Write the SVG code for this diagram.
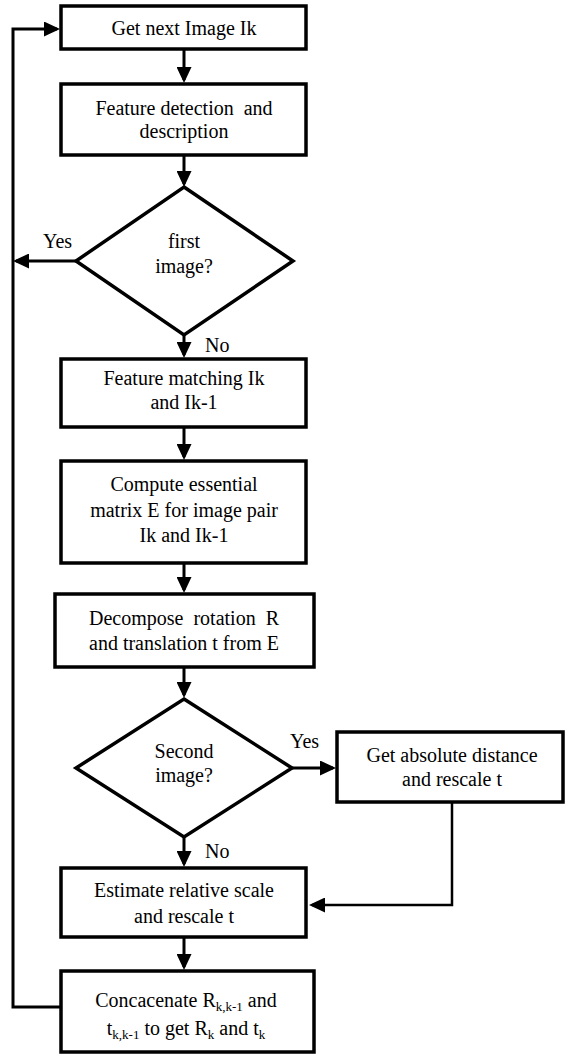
<svg xmlns="http://www.w3.org/2000/svg" width="566" height="1055" viewBox="0 0 566 1055">
<style>
.box{fill:#fff;stroke:#000;stroke-width:3.5}
.c{fill:none;stroke:#000;stroke-width:3}
.c2{fill:none;stroke:#000;stroke-width:2.5}
.t{font-family:'Liberation Serif',Tinos,'Times New Roman',Times,'Nimbus Roman','Nimbus Roman No9 L',FreeSerif,'Noto Serif','DejaVu Serif','Noto Serif CJK SC',serif;font-size:20px;fill:#000}
.m{text-anchor:middle}
.s{font-size:13px}
</style>
<defs>
<marker id="ah" viewBox="0 0 16 15" refX="13" refY="7.5" markerWidth="16" markerHeight="15" orient="auto" markerUnits="userSpaceOnUse"><path d="M0,0 L16,7.5 L0,15 z" fill="#000"/></marker>
</defs>
<rect width="566" height="1055" fill="#fff"/>
<g id="connectors">
<line class="c" x1="184" y1="50" x2="184" y2="80" marker-end="url(#ah)"/>
<line class="c" x1="184" y1="156" x2="184" y2="184" marker-end="url(#ah)"/>
<line class="c" x1="76" y1="261" x2="16" y2="261" marker-end="url(#ah)"/>
<line class="c" x1="184" y1="335" x2="184" y2="355" marker-end="url(#ah)"/>
<line class="c" x1="184" y1="428" x2="184" y2="457" marker-end="url(#ah)"/>
<line class="c" x1="184" y1="564" x2="184" y2="590" marker-end="url(#ah)"/>
<line class="c" x1="184" y1="668" x2="184" y2="695" marker-end="url(#ah)"/>
<line class="c" x1="184" y1="837" x2="184" y2="864" marker-end="url(#ah)"/>
<line class="c" x1="292" y1="768" x2="333" y2="768" marker-end="url(#ah)"/>
<polyline class="c2" points="452,803 452,905 312,905" marker-end="url(#ah)"/>
<line class="c" x1="184" y1="938" x2="184" y2="967" marker-end="url(#ah)"/>
<polyline class="c" points="61,1007 13,1007 13,29 57,29" marker-end="url(#ah)"/>
</g>
<g id="n1"><rect class="box" x="61" y="6" width="245" height="43"/><text class="t m" x="184" y="35">Get next Image Ik</text></g>
<g id="n2"><rect class="box" x="61" y="84" width="245" height="71"/><text class="t m" x="184" y="115" xml:space="preserve">Feature detection  and</text><text class="t m" x="184" y="138">description</text></g>
<g id="d1"><polygon class="box" points="184,187 293,261 184,335 76,261"/><text class="t m" x="184" y="248">first</text><text class="t m" x="184" y="273">image?</text></g>
<text class="t" x="43" y="248">Yes</text>
<text class="t" x="205" y="352">No</text>
<g id="n3"><rect class="box" x="61" y="359" width="245" height="68"/><text class="t m" x="184" y="385">Feature matching Ik</text><text class="t m" x="184" y="409">and Ik-1</text></g>
<g id="n4"><rect class="box" x="61" y="461" width="245" height="102"/><text class="t m" x="184" y="491">Compute essential</text><text class="t m" x="184" y="517">matrix E for image pair</text><text class="t m" x="184" y="542">Ik and Ik-1</text></g>
<g id="n5"><rect class="box" x="55" y="594" width="259" height="73"/><text class="t m" x="184" y="625" xml:space="preserve">Decompose  rotation  R</text><text class="t m" x="184" y="650">and translation t from E</text></g>
<g id="d2"><polygon class="box" points="184,699 292,768 184,837 76,768"/><text class="t m" x="184" y="758">Second</text><text class="t m" x="184" y="782">image?</text></g>
<text class="t" x="290" y="748">Yes</text>
<text class="t" x="205" y="858">No</text>
<g id="n6"><rect class="box" x="337" y="732" width="226" height="70"/><text class="t m" x="452" y="762">Get absolute distance</text><text class="t m" x="452" y="786">and rescale t</text></g>
<g id="n7"><rect class="box" x="61" y="868" width="245" height="69"/><text class="t m" x="184" y="897">Estimate relative scale</text><text class="t m" x="184" y="923">and rescale t</text></g>
<g id="n8"><rect class="box" x="61" y="971" width="253" height="81"/><text class="t m" x="186" y="1007">Concacenate R<tspan class="s" dy="4">k,k-1</tspan><tspan dy="-4"> and</tspan></text><text class="t m" x="186" y="1035">t<tspan class="s" dy="4">k,k-1</tspan><tspan dy="-4"> to get R</tspan><tspan class="s" dy="4">k</tspan><tspan dy="-4"> and t</tspan><tspan class="s" dy="4">k</tspan></text></g>
</svg>
